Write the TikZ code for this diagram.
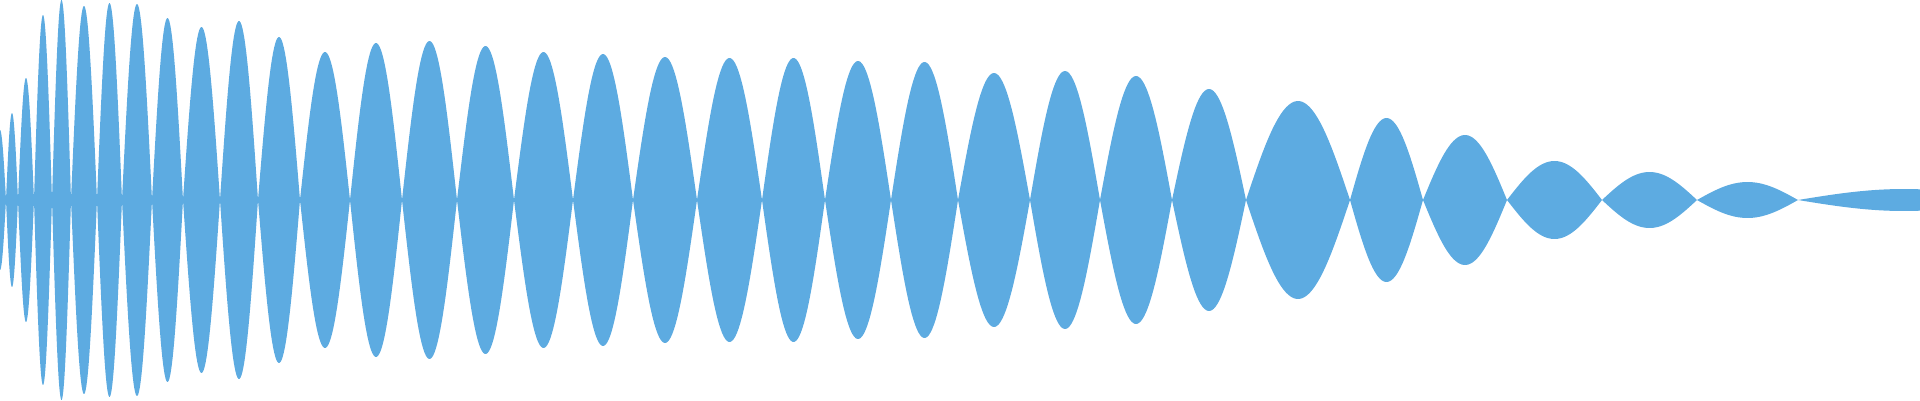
\documentclass[tikz,border=0pt]{standalone}
\definecolor{wave}{HTML}{5DABE1}
\begin{document}
\begin{tikzpicture}[x=1pt,y=1pt]
\useasboundingbox (0,-200) rectangle (1920,200);
\clip (0,-200) rectangle (1920,200);
\fill[wave] (0,-3) rectangle (320,3);
\foreach \a/\b/\A in {-6/6/70,6/18/87,18/34/122,34/52/185,52/71/200,71/97/194,97/122/197,122/152/196,152/183/182,183/220/173,220/258/179,258/300/163,300/350/148,350/402/157,402/457/159,457/514/154,514/573/148,573/633/146,633/697/143,697/762/142,762/825/142,825/891/139,891/958/138,958/1030/127,1030/1100/129,1100/1172/124,1172/1246/111,1246/1350/99,1350/1423/82,1423/1507/65,1507/1602/39,1602/1697/28,1697/1798/18,1798/2010/11}{
  \fill[wave] plot[domain=0:180,samples=40] ({\a+(\b-\a)/180*\x},{\A*sin(\x)})
    -- plot[domain=180:0,samples=40] ({\a+(\b-\a)/180*\x},{-\A*sin(\x)}) -- cycle;
}
\end{tikzpicture}
\end{document}
